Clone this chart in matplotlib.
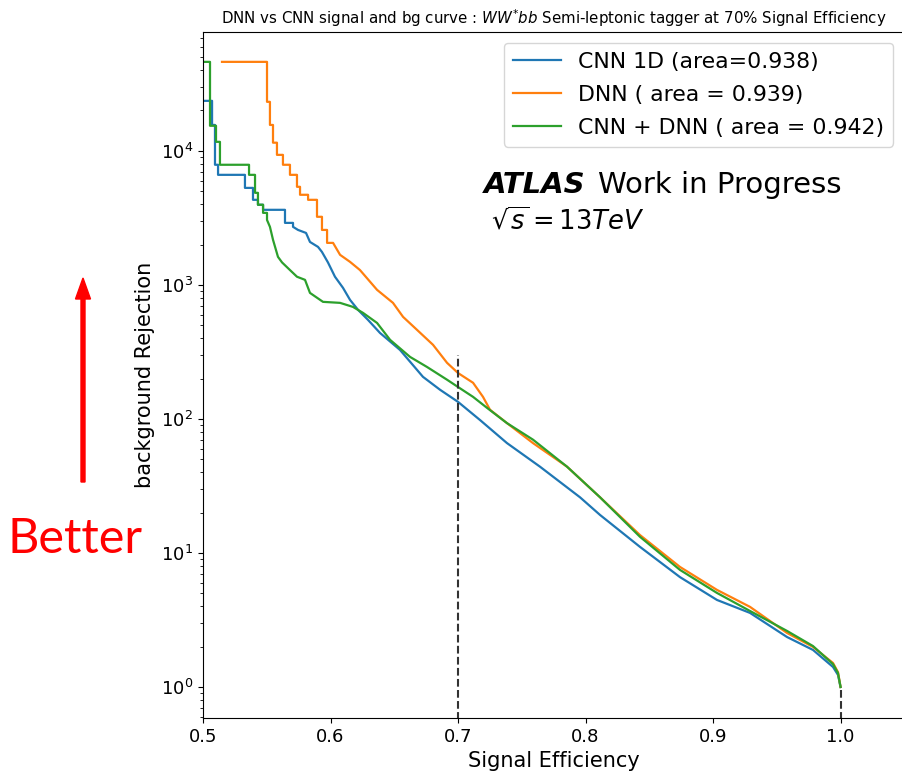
"""Signal efficiency vs background rejection: CNN 1D / DNN / CNN + DNN."""

import matplotlib

matplotlib.use("Agg")
import matplotlib.pyplot as plt

# CNN 1D
cnn_eff = [0.500, 0.5071, 0.5071, 0.5094, 0.5094, 0.5118, 0.5118, 0.5329, 0.5329,
           0.5392, 0.5392, 0.5431, 0.5431, 0.5471, 0.5471, 0.5643, 0.5643, 0.5706,
           0.5706, 0.5745, 0.5808, 0.5839, 0.5902, 0.5933, 0.5980, 0.6035, 0.6098,
           0.6153, 0.6216, 0.6294, 0.6388, 0.6545, 0.6725, 0.6859, 0.7000, 0.7173,
           0.7384, 0.7643, 0.7957, 0.8114, 0.8427, 0.8741, 0.9031, 0.9290, 0.9580,
           0.9784, 0.9941, 0.9980, 1.000]
cnn_rej = [23600, 23600, 15600, 15600, 7870, 7870, 6620, 6620, 5290,
           5290, 4310, 4310, 3960, 3960, 3630, 3630, 2900, 2900,
           2710, 2570, 2440, 2090, 1920, 1760, 1470, 1150, 950,
           773, 651, 548, 438, 327, 206, 165, 134, 98,
           66, 44, 26, 19.2, 11.1, 6.6, 4.46, 3.57, 2.36,
           1.89, 1.41, 1.23, 1.0]

# DNN
dnn_eff = [0.5149, 0.5502, 0.5502, 0.5525, 0.5525, 0.5549, 0.5549, 0.5580, 0.5580,
           0.5627, 0.5627, 0.5682, 0.5682, 0.5737, 0.5737, 0.5761, 0.5761, 0.5824,
           0.5824, 0.5894, 0.5894, 0.5933, 0.5933, 0.5973, 0.5973, 0.6020, 0.6075,
           0.6153, 0.6231, 0.6365, 0.6490, 0.6569, 0.6678, 0.6804, 0.6914, 0.7000,
           0.7118, 0.7196, 0.7251, 0.7384, 0.7588, 0.7855, 0.8114, 0.8427, 0.8741,
           0.9031, 0.9290, 0.9580, 0.9784, 0.9941, 0.9980, 1.000]
dnn_rej = [46100, 46100, 23200, 23200, 15600, 15600, 11500, 11500, 9330,
           9330, 7870, 7870, 6620, 6620, 5390, 5390, 4700, 4700,
           4310, 4310, 3220, 3220, 2570, 2570, 2057, 2057, 1675,
           1485, 1290, 918, 734, 577, 462, 357, 262, 220,
           186, 146, 117, 93, 66, 44, 26, 13.6, 7.86,
           5.3, 3.96, 2.53, 1.99, 1.51, 1.29, 1.0]

# CNN + DNN
comb_eff = [0.500, 0.5055, 0.5055, 0.5102, 0.5102, 0.5133, 0.5133, 0.5361, 0.5361,
            0.5408, 0.5408, 0.5431, 0.5431, 0.5471, 0.5471, 0.5502, 0.5502, 0.5525,
            0.5549, 0.5588, 0.5620, 0.5682, 0.5737, 0.5800, 0.5839, 0.5941, 0.6075,
            0.6176, 0.6255, 0.6365, 0.6467, 0.6624, 0.6757, 0.6914, 0.7000, 0.7118,
            0.7227, 0.7384, 0.7588, 0.7855, 0.8114, 0.8427, 0.8741, 0.9031, 0.9290,
            0.9580, 0.9784, 0.9941, 0.9980, 1.000]
comb_rej = [46100, 46100, 15380, 15380, 11670, 11670, 7870, 7870, 6620,
            6620, 4860, 4860, 3960, 3960, 3445, 3445, 3050, 2710,
            2170, 1618, 1470, 1290, 1150, 1090, 871, 747, 734,
            685, 618, 520, 389, 290, 244, 196, 173, 146,
            121, 93, 70, 44, 26, 13.2, 7.47, 5.03, 3.69,
            2.62, 2.02, 1.48, 1.27, 1.0]

labels = ["CNN 1D (area=0.938)", "DNN ( area = 0.939)", "CNN + DNN ( area = 0.942)"]

# dashed markers: working point at 70 % and the end point
marker_x = [0.7, 1.0]
marker_top = [300, 1.0]

fig = plt.figure(figsize=(9.03, 7.74), dpi=100)
ax = fig.add_axes([203 / 903, 56 / 774, 701.3 / 903, 686 / 774])

ax.plot(cnn_eff, cnn_rej, color="tab:blue", lw=1.6, label=labels[0])
ax.plot(dnn_eff, dnn_rej, color="tab:orange", lw=1.6, label=labels[1])
ax.plot(comb_eff, comb_rej, color="tab:green", lw=1.6, label=labels[2])
ax.vlines(marker_x, 0.01, marker_top, colors="0.2", linestyles="dashed", lw=1.5)

ax.set_yscale("log")
ax.set_xlim(0.5, 1.05)
ax.set_ylim(0.587, 7.7e4)
ax.set_xticks([0.5, 0.6, 0.7, 0.8, 0.9, 1.0])
ax.tick_params(labelsize=13)
ax.set_xlabel("Signal Efficiency", fontsize=15)
ax.set_ylabel("background Rejection", fontsize=15)
ax.set_title("DNN vs CNN signal and bg curve : $WW^{*}bb$ Semi-leptonic tagger at 70% Signal Efficiency",
             fontsize=10.8)
ax.legend(loc="upper right", fontsize=15.8, handlelength=2.2, labelspacing=0.6)

ax.text(0.40, 0.765, "ATLAS", transform=ax.transAxes, fontsize=21,
        fontweight="bold", fontstyle="italic")
ax.text(0.563, 0.765, "Work in Progress", transform=ax.transAxes, fontsize=21)
ax.text(0.41, 0.712, r"$\sqrt{s} = 13TeV$", transform=ax.transAxes, fontsize=18.5)

fig.patches.append(matplotlib.patches.FancyArrow(
    83 / 903, 1 - 482 / 774, 0, (482 - 278) / 774, width=4 / 903,
    head_width=15 / 903, head_length=21 / 774, length_includes_head=True,
    color="red", transform=fig.transFigure))
fig.text(7 / 903, 1 - 553 / 774, "Better", color="red", fontsize=35, family="Lato")

fig.savefig("out.png", dpi=100)
plt.close(fig)
